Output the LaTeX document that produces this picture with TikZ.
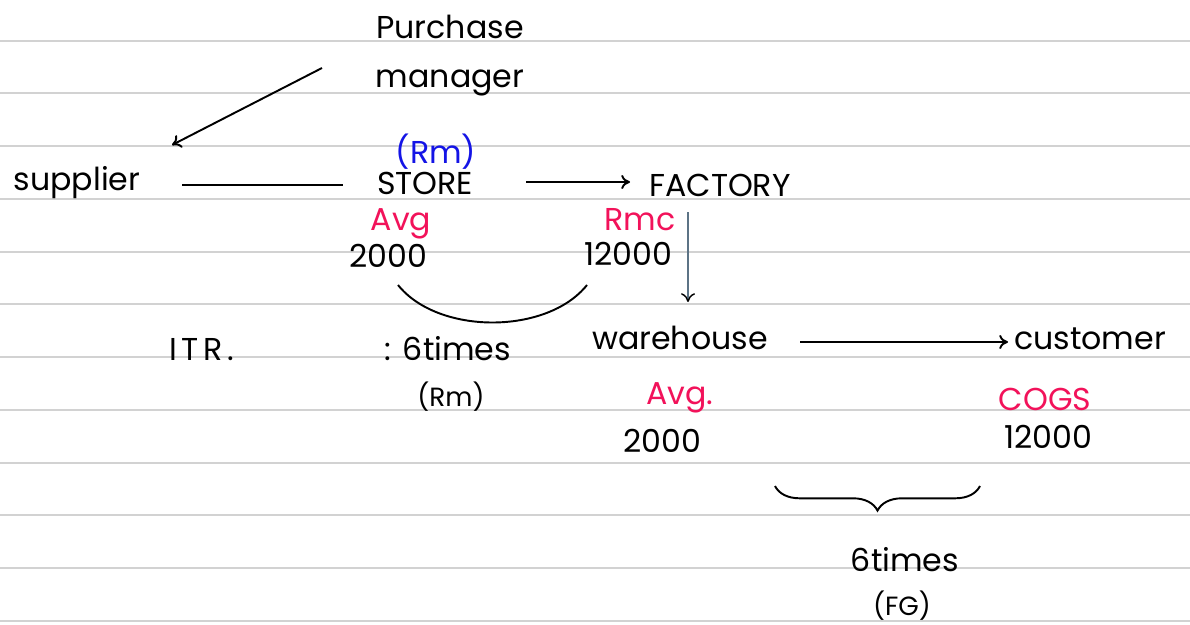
\documentclass[tikz,border=0pt]{standalone}
\usepackage{fontspec}
\setmainfont{Poppins}
\usetikzlibrary{arrows.meta,decorations.pathreplacing}
\definecolor{inkred}{HTML}{F2125A}
\definecolor{inkblue}{HTML}{1414E6}
\definecolor{rule}{HTML}{D2D2D2}
\definecolor{slate}{HTML}{5C7385}
\tikzset{
  txt/.style={inner sep=0pt, font=\fontsize{18}{20}\selectfont, text=black},
  redtxt/.style={txt, text=inkred},
  small/.style={inner sep=0pt, font=\fontsize{15}{17}\selectfont},
  pen/.style={line width=1.1pt, black},
  tip/.style={-{To[length=5pt,width=8pt]}}
}
\begin{document}
\begin{tikzpicture}[x=0.02cm,y=-0.02cm]
\useasboundingbox (0,0) rectangle (1190,625);
\fill[white] (0,0) rectangle (1190,625);
\foreach \k in {0,...,11}{
  \draw[rule, line width=1.1pt] (0,40.7+52.75*\k) -- (1190,40.7+52.75*\k);
}
% nodes
\node[txt] (purchase) at (450,27) {Purchase};
\node[txt] (manager) at (450,83) {manager};
\node[txt, text=inkblue] (rm1) at (436,152) {(Rm)};
\node[txt] (supplier) at (77,183) {supplier};
\node[txt] (store) at (425,183) {STORE};
\node[txt] (factory) at (720,185) {FACTORY};
\node[redtxt] (avg1) at (401,224) {Avg};
\node[txt] (n2000a) at (388,256) {2000};
\node[redtxt] (rmc) at (640,220) {Rmc};
\node[txt] (n12000a) at (628,254) {12000};
\node[txt, font=\fontsize{18}{20}\selectfont\addfontfeatures{LetterSpace=15}] (itr) at (202,350) {ITR.};
\node[txt] (times1) at (448,349) {: 6times};
\node[small] (rm2) at (451,397) {(Rm)};
\node[txt] (warehouse) at (680,338) {warehouse};
\node[txt] (customer) at (1090,339) {customer};
\node[redtxt] (avg2) at (680,398) {Avg.};
\node[txt] (n2000b) at (662,441) {2000};
\node[redtxt] (cogs) at (1045,399) {COGS};
\node[txt] (n12000b) at (1048,437) {12000};
\node[txt] (times2) at (905,560) {6times};
\node[small] (fg) at (902,606) {(FG)};
% connectors
\draw[pen, tip] ([shift={(-128,-15)}]manager.center) -- ([shift={(95,-38)}]supplier.center);
\draw[pen] ([shift={(105,2)}]supplier.center) -- ([shift={(-82,2)}]store.center);
\draw[pen, tip] ([shift={(101,-1)}]store.center) -- ([shift={(-90,-3)}]factory.center);
\draw[slate, line width=0.8pt, -{To[length=5pt,width=8pt,color=black]}] ([shift={(-32,27)}]factory.center) -- ([shift={(8,-36)}]warehouse.center);
\draw[pen, tip] ([shift={(120,4)}]warehouse.center) -- ([shift={(-82,3)}]customer.center);
\draw[pen] ([shift={(10,29)}]n2000a.center) .. controls +(40,50) and +(-40,50) .. ([shift={(-41,31)}]n12000a.center);
% brace
\draw[pen, decorate, decoration={brace, amplitude=14pt}] (980,486) -- (775,486);
\end{tikzpicture}
\end{document}
